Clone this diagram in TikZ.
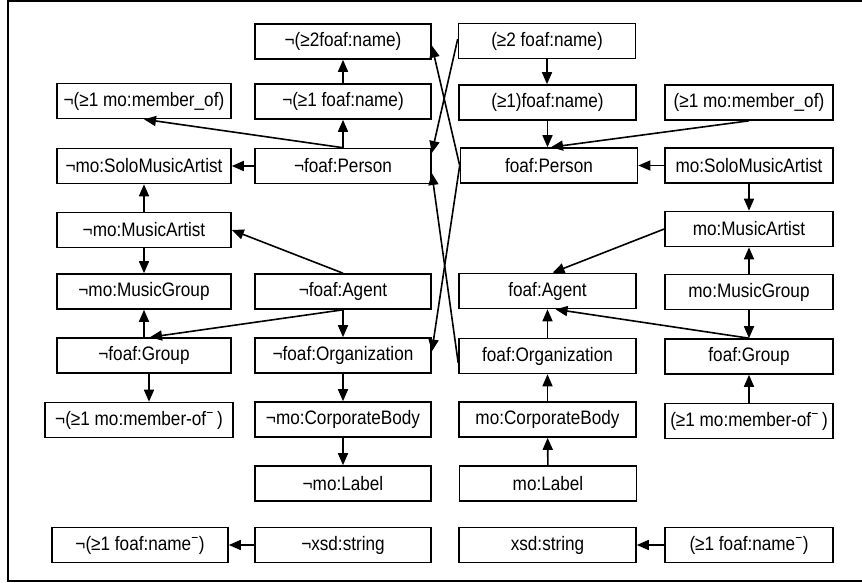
\documentclass[tikz,border=0pt]{standalone}
\usepackage{fontspec}
\newfontfamily\diafont[FakeStretch=0.88]{Liberation Sans}
\usetikzlibrary{arrows.meta}
\tikzset{
  box/.style={draw, line width=1.6pt, minimum height=35pt, inner sep=0pt,
    font=\diafont\fontsize{19.5}{21}\selectfont},
  colA/.style={box, minimum width=174pt},
  colB/.style={box, minimum width=176pt},
  colC/.style={box, minimum width=177pt},
  colD/.style={box, minimum width=168pt},
  arr/.style={line width=1.6pt, -{Triangle[length=12pt,width=10pt]}},
  frameline/.style={line width=2pt}
}
\newcommand{\supminus}{\textsuperscript{\char"2212}}
\begin{document}
\begin{tikzpicture}[x=1pt,y=-1pt]
\useasboundingbox (0,0) rectangle (862,582);
\draw[frameline] (870,1) -- (8,1) -- (8,581) -- (870,581);

% column A
\node[colA] (nMemberOf) at (144,101) {¬(≥1 mo:member\_of)};
\node[colA] (nSolo) at (144,166) {¬mo:SoloMusicArtist};
\node[colA] (nMArtist) at (144,230) {¬mo:MusicArtist};
\node[colA] (nMGroup) at (144,291.5) {¬mo:MusicGroup};
\node[colA] (nGroup) at (144,355.5) {¬foaf:Group};
\node[box, minimum width=188pt] (nMemberOfInv) at (139,420) {¬(≥1 mo:member-of\supminus\,)};
\node[box, minimum width=176pt] (nNameInv) at (140,545) {¬(≥1 foaf:name\supminus)};

% column B
\node[colB] (n2Name) at (343,41.5) {¬(≥2foaf:name)};
\node[colB] (n1Name) at (343,101.5) {¬(≥1 foaf:name)};
\node[colB] (nPerson) at (343,166) {¬foaf:Person};
\node[colB] (nAgent) at (343,291.5) {¬foaf:Agent};
\node[colB] (nOrg) at (343,355.5) {¬foaf:Organization};
\node[colB] (nCorp) at (343,419.5) {¬mo:CorporateBody};
\node[colB] (nLabel) at (343,483.5) {¬mo:Label};
\node[colB] (nString) at (343,545) {¬xsd:string};

% column C
\node[colC] (p2Name) at (547,41) {(≥2 foaf:name)};
\node[colC] (p1Name) at (547.5,102.5) {(≥1)foaf:name)};
\node[colC] (pPerson) at (549,165.5) {foaf:Person};
\node[colC] (pAgent) at (547.5,291) {foaf:Agent};
\node[colC] (pOrg) at (547.5,356) {foaf:Organization};
\node[colC] (pCorp) at (547.5,419.5) {mo:CorporateBody};
\node[colC] (pLabel) at (548,483.5) {mo:Label};
\node[colC] (pString) at (547.5,545) {xsd:string};

% column D
\node[colD] (pMemberOf) at (749,102.5) {(≥1 mo:member\_of)};
\node[colD] (pSolo) at (749,165.5) {mo:SoloMusicArtist};
\node[colD] (pMArtist) at (749,229) {mo:MusicArtist};
\node[colD] (pMGroup) at (749,292) {mo:MusicGroup};
\node[colD] (pGroup) at (749,356.5) {foaf:Group};
\node[colD] (pMemberOfInv) at (749,421) {(≥1 mo:member-of\supminus\,)};
\node[colD] (pNameInv) at (749,545) {(≥1 foaf:name\supminus)};

% left half edges
\draw[arr] (n1Name) -- (n2Name);
\draw[arr] (nPerson) -- (n1Name);
\draw[arr] (nPerson.north) -- (nMemberOf.south);
\draw[arr] (nPerson) -- (nSolo);
\draw[arr] (nMArtist) -- (nSolo);
\draw[arr] (nMArtist) -- (nMGroup);
\draw[arr] (nAgent.north) -- (nMArtist.east);
\draw[arr] (nAgent.south) -- ([xshift=6pt]nGroup.north);
\draw[arr] (nGroup) -- (nMGroup);
\draw[arr] (nAgent) -- (nOrg);
\draw[arr] ([xshift=5pt]nGroup.south) -- ([xshift=5pt]nGroup.south |- nMemberOfInv.north);
\draw[arr] (nOrg) -- (nCorp);
\draw[arr] (nCorp) -- (nLabel);
\draw[arr] (nString) -- (nNameInv);

% right half edges
\draw[arr] (p2Name) -- (p2Name |- p1Name.north);
\draw[arr] (p1Name) -- (p1Name.south |- pPerson.north);
\draw[arr] (pMemberOf.south) -- ([xshift=2pt]pPerson.north);
\draw[arr] (pSolo) -- (pPerson);
\draw[arr] (pSolo) -- (pMArtist);
\draw[arr] (pMArtist.west) -- ([xshift=5pt]pAgent.north);
\draw[arr] (pMGroup) -- (pMArtist);
\draw[arr] (pMGroup) -- (pGroup);
\draw[arr] (pGroup.north) -- ([xshift=8pt]pAgent.south);
\draw[arr] (pOrg) -- (pAgent);
\draw[arr] (pCorp) -- (pOrg);
\draw[arr] (pLabel) -- (pCorp);
\draw[arr] (pMemberOfInv) -- (pGroup);
\draw[arr] (pNameInv) -- (pString);

% crossing edges
\draw[arr] ([yshift=2pt]p2Name.west) -- ([yshift=13pt]nPerson.east);
\draw[arr] ([yshift=0pt]pPerson.west) -- ([yshift=-4pt]n2Name.east);
\draw[arr] ([yshift=-7pt]pOrg.west) -- ([yshift=-7pt]nPerson.east);
\draw[arr] ([yshift=0pt]pPerson.west) -- ([yshift=4pt]nOrg.east);
\end{tikzpicture}
\end{document}
